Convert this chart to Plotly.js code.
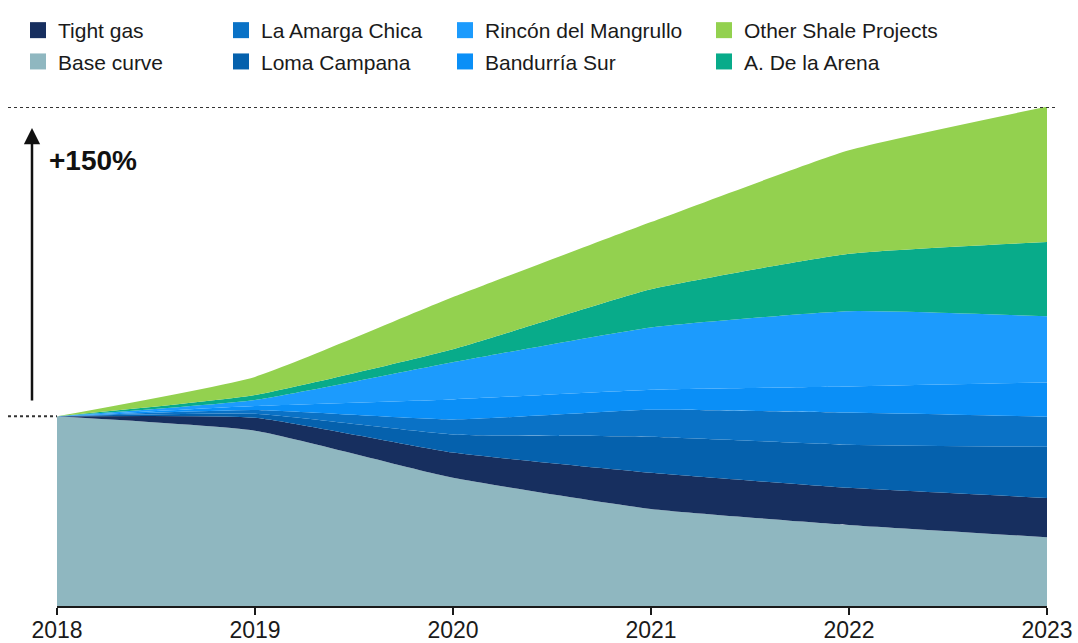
<!DOCTYPE html>
<html>
<head>
<meta charset="utf-8">
<script src="https://cdn.plot.ly/plotly-3.0.1.min.js"></script>
<style>
  html, body { margin: 0; padding: 0; background: #ffffff; }
  #chart { width: 1078px; height: 643px; }
</style>
</head>
<body>
<div id="chart"></div>
<script>
// ---- Data (index: 2018 base = 100) ----
const years = [2018, 2019, 2020, 2021, 2022, 2023];
const tickLabels = ["2018", "2019", "2020", "2021", "2022", "2023"];

const baseCurve       = [100, 93.0, 70.2, 55.1, 47.3, 41.4];
const tightGas        = [0, 6.3, 12.2, 17.5, 18.0, 19.0];
const lomaCampana     = [0, 1.9, 8.8, 17.5, 20.9, 24.8];
const laAmargaChica   = [0, 1.9, 7.3, 13.1, 15.6, 14.6];
const bandurriaSur    = [0, 1.9, 9.7, 9.7, 12.7, 16.6];
const rinconMangrullo = [0, 2.9, 18.0, 30.2, 36.5, 32.1];
const deLaArena       = [0, 2.4, 6.3, 18.5, 27.8, 36.0];
const otherShale      = [0, 8.8, 25.3, 32.6, 50.2, 65.7];

const baselineLevel = 100;
const targetLevel = 250;

// ---- Series definitions (stack order: bottom to top) ----
const series = [
  { name: "Base curve",            y: baseCurve,       color: "#8fb7c0", legend: "legend"  },
  { name: "Tight gas",             y: tightGas,        color: "#172f5f", legend: "legend"  },
  { name: "Loma Campana",          y: lomaCampana,     color: "#0561ad", legend: "legend2" },
  { name: "La Amarga Chica",       y: laAmargaChica,   color: "#0a72c6", legend: "legend2" },
  { name: "Bandurría Sur",         y: bandurriaSur,    color: "#0a8ff7", legend: "legend3" },
  { name: "Rincón del Mangrullo",  y: rinconMangrullo, color: "#1c9bfd", legend: "legend3" },
  { name: "A. De la Arena",        y: deLaArena,       color: "#08ab8a", legend: "legend4" },
  { name: "Other Shale Projects",  y: otherShale,      color: "#93d14f", legend: "legend4" }
];

// legend order per column (top to bottom)
const legendOrder = [
  "Tight gas", "Base curve",
  "La Amarga Chica", "Loma Campana",
  "Rincón del Mangrullo", "Bandurría Sur",
  "Other Shale Projects", "A. De la Arena"
];

const traces = [];
series.forEach(s => {
  traces.push({
    type: "scatter",
    x: years,
    y: s.y,
    name: s.name,
    stackgroup: "one",
    mode: "none",
    line: { width: 0, shape: "spline", smoothing: 0.45 },
    fillcolor: s.color,
    showlegend: false,
    hoverinfo: "skip"
  });
});
legendOrder.forEach(n => {
  const s = series.find(t => t.name === n);
  traces.push({
    type: "scatter",
    x: [null],
    y: [null],
    name: s.name,
    mode: "markers",
    marker: { symbol: "square", size: 16, color: s.color, line: { width: 0 } },
    legend: s.legend,
    legendgroup: s.name,
    showlegend: true,
    hoverinfo: "skip"
  });
});

// ---- Layout ----
const W = 1078, H = 643;
const mL = 57, mR = 31, mT = 107, mB = 37;
const pw = W - mL - mR, ph = H - mT - mB;
const px = v => (v - mL) / pw;          // page x -> paper x
const py = v => (H - mB - v) / ph;      // page y -> paper y

const legendFont = { family: "Liberation Sans, Arial, sans-serif", size: 21, color: "#1a1a1a" };
function legendAt(xPage) {
  return {
    x: px(xPage), y: py(10), xanchor: "left", yanchor: "top",
    orientation: "v", font: legendFont, bgcolor: "rgba(0,0,0,0)",
    borderwidth: 0, traceorder: "grouped", tracegroupgap: 1,
    itemwidth: 30, itemclick: false, itemdoubleclick: false
  };
}

const layout = {
  width: W, height: H,
  margin: { l: mL, r: mR, t: mT, b: mB, pad: 0, autoexpand: false },
  paper_bgcolor: "#ffffff",
  plot_bgcolor: "#ffffff",
  font: { family: "Liberation Sans, Arial, sans-serif", color: "#1a1a1a" },
  showlegend: true,
  legend: legendAt(18),
  legend2: legendAt(221),
  legend3: legendAt(445),
  legend4: legendAt(704),
  xaxis: {
    type: "linear",
    range: [years[0], years[years.length - 1]],
    tickmode: "array",
    tickvals: years,
    ticktext: tickLabels,
    ticks: "outside",
    ticklen: 7,
    tickwidth: 2,
    tickcolor: "#1a1a1a",
    ticklabelstandoff: -5,
    showline: true,
    linecolor: "#1a1a1a",
    linewidth: 2,
    showgrid: false,
    zeroline: false,
    automargin: false,
    tickfont: { family: "Liberation Sans, Arial, sans-serif", size: 23, color: "#1a1a1a" },
    fixedrange: true
  },
  yaxis: {
    range: [8, 250],
    visible: false,
    showgrid: false,
    zeroline: false,
    fixedrange: true
  },
  shapes: [
    { type: "line", xref: "paper", yref: "y", x0: px(8), x1: px(1057), y0: targetLevel, y1: targetLevel,
      line: { color: "#333333", width: 2, dash: "dot" }, layer: "above" },
    { type: "line", xref: "paper", yref: "y", x0: px(8), x1: 0, y0: baselineLevel, y1: baselineLevel,
      line: { color: "#333333", width: 2, dash: "dot" }, layer: "above" }
  ],
  annotations: [
    { xref: "paper", yref: "paper", x: px(32), y: py(128), text: "", showarrow: true,
      ax: 0, ay: 274, axref: "pixel", ayref: "pixel",
      arrowhead: 2, arrowsize: 1.3, arrowwidth: 2.5, arrowcolor: "#111111" },
    { xref: "paper", yref: "paper", x: px(47), y: py(160), xanchor: "left", yanchor: "middle",
      text: "<b>+150%</b>", showarrow: false,
      font: { family: "Liberation Sans, Arial, sans-serif", size: 28, color: "#111111" } }
  ]
};

Plotly.newPlot("chart", traces, layout, { displayModeBar: false, staticPlot: true });
</script>
</body>
</html>
